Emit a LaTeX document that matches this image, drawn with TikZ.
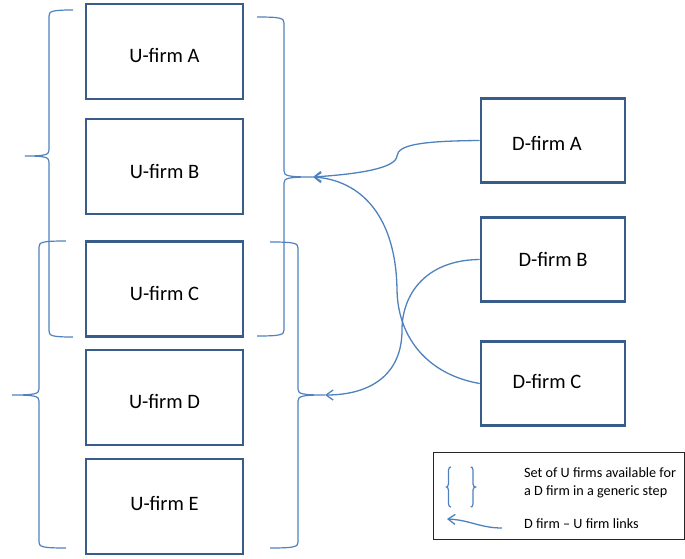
\documentclass[tikz,border=0pt]{standalone}
\usepackage{fontspec}
\setmainfont{Carlito}
\usetikzlibrary{arrows.meta}
\definecolor{boxline}{HTML}{385D8A}
\definecolor{linkblue}{HTML}{4F81BD}
% curly bracket: #1 side (-1 points left, +1 points right), #2 tip x, #3 spine x,
% #4 point x, #5 top y, #6 middle y, #7 bottom y, #8 curl size
\newcommand{\setbrace}[8]{%
  \draw[brace] (#2,#5) .. controls ({#3-0.5*#8*(#1)},#5) and (#3,{#5+0.2*#8}) .. (#3,{#5+#8})
    -- (#3,{#6-#8}) .. controls (#3,{#6-0.2*#8}) and ({#3+0.6*#8*(#1)},#6) .. (#4,#6)
    .. controls ({#3+0.6*#8*(#1)},#6) and (#3,{#6+0.2*#8}) .. (#3,{#6+#8})
    -- (#3,{#7-#8}) .. controls (#3,{#7-0.2*#8}) and ({#3-0.5*#8*(#1)},#7) .. (#2,#7);}
\begin{document}
\begin{tikzpicture}[x=1pt,y=-1pt,
  firmbox/.style={draw=boxline, line width=2.6pt, rectangle, inner sep=0pt,
    text height=20pt, text depth=0pt, font=\fontsize{20.5}{24}\selectfont},
  ufirm/.style={firmbox, minimum width=157pt, minimum height=95pt},
  dfirm/.style={firmbox, minimum width=144pt, minimum height=84pt},
  brace/.style={draw=linkblue, line width=1.2pt},
  link/.style={draw=linkblue, line width=1.3pt, -{Straight Barb[length=7pt,width=10pt]}},
  legtext/.style={anchor=west, inner sep=0pt, font=\fontsize{14.2}{17}\selectfont}]
\useasboundingbox (0,0) rectangle (685,559);

% upstream firms
\node[ufirm, text height=22pt] (uA) at (164.5,51.5) {U-firm A};
\node[ufirm, text height=24pt] (uB) at (164.5,166.5) {U-firm B};
\node[ufirm, text height=23pt] (uC) at (164.5,289) {U-firm C};
\node[ufirm, text height=22pt] (uD) at (164.5,397.5) {U-firm D};
\node[ufirm, text height=8pt] (uE) at (164.5,506.5) {U-firm E};

% downstream firms
\node[dfirm, text height=20pt] (dA) at (553,140.5) {\hspace*{-12pt}D-firm A};
\node[dfirm, text height=14pt] (dB) at (553,259.5) {D-firm B};
\node[dfirm, text height=10pt] (dC) at (553,383.5) {\hspace*{-12pt}D-firm C};

% sets of available upstream firms
\setbrace{-1}{73}{49}{25}{10}{156}{337}{6}
\setbrace{-1}{66}{39}{12}{241}{395}{548}{6}
\setbrace{1}{257}{284}{313}{17}{177}{336}{6}
\setbrace{1}{270}{298}{325}{242}{395}{548}{6}

% links
\coordinate (pB) at (313,177);
\coordinate (pD) at (325,395);
\draw[link] (dA.west) .. controls (420,141) and (398,145) .. (397,156)
  .. controls (396,168) and (360,174) .. (pB);
\draw[link] (dC.west) .. controls (430,375) and (398,340) .. (397,290)
  .. controls (396,215) and (360,180) .. (pB);
\draw[link] (dB.west) .. controls (425,260) and (402,295) .. (402,330)
  .. controls (402,375) and (370,395) .. (pD);

% legend
\node[draw=black!85, line width=0.9pt, rectangle, minimum width=251pt, minimum height=87pt,
  inner sep=0pt] (legend) at (558.5,495.5) {};
\setbrace{-1}{451}{448.5}{446.5}{467}{487}{507}{3}
\setbrace{1}{470.7}{473}{475.5}{467}{487}{507}{3}
\node[legtext] (l1) at (524,473) {Set of U firms available for};
\node[legtext] (l2) at (524,492) {a D firm in a generic step};
\node[legtext] (l3) at (524,524) {D firm -- U firm links};
\coordinate (lgTail) at (502,528);
\coordinate (lgTip) at (447,519);
\draw[link] (lgTail) .. controls (480,528) and (470,520) .. (lgTip);
\end{tikzpicture}
\end{document}
